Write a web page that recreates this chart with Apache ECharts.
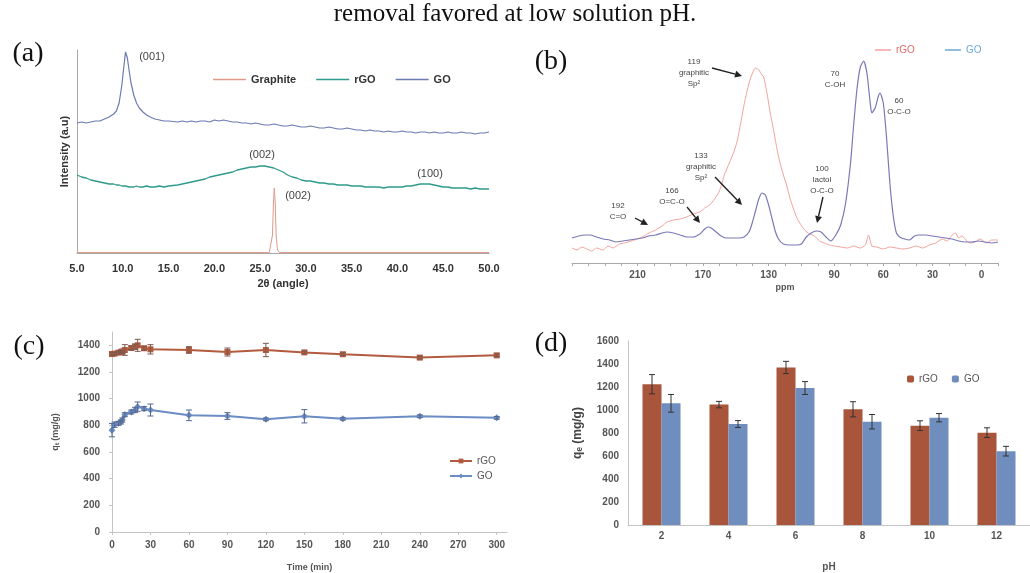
<!DOCTYPE html>
<html>
<head>
<meta charset="utf-8">
<title>GO / rGO characterisation and adsorption</title>
<script src="https://cdn.jsdelivr.net/npm/echarts@6/dist/echarts.min.js"></script>
<style>
  html, body { margin: 0; padding: 0; background: #fff; }
  #main { width: 1030px; height: 573px; }
</style>
</head>
<body>
<div id="main"></div>
<script>
// ---- (a) XRD, intensity in arbitrary units (offset traces) ----
var xrdAngle = [5,5.5,6,6.5,7,7.5,8,8.5,9,
  9.3,9.6,9.9,10.1,10.3,10.5,10.7,10.9,11.2,11.5,11.8,12.2,12.6,13,13.5,14,14.5,15,
  16,16.5,17,17.5,18,18.5,19,19.5,20,20.5,21,21.5,22,22.5,23,23.5,24,24.5,25,25.5,
  26,26.5,27,27.5,28,28.5,29,29.5,30,30.5,31,31.5,32,32.5,33,33.5,34,34.5,35,35.5,
  36,36.5,37,37.5,38,38.5,39,39.5,40,40.5,41,41.5,42,42.5,43,43.5,44,44.5,45,45.5,
  46,46.5,47,47.5,48,48.5,49,49.5,50];
var xrdGO = [130,131,130,131,132,132,134,136,139,
  142,150,168,185,201,195,182,170,158,150,145,141,138,136,134,133,132,132,
  131,132,131,132,131,132,132,131,133,132,133,132,131,131,130,130,129,130,129,128,
  128,129,128,127,127,128,127,126,126,127,126,125,125,126,125,124,124,125,124,123,
  123,122,123,122,122,121,122,121,121,122,121,121,120,121,121,120,121,120,120,121,
  120,120,121,120,120,119,120,120,121];
var xrdRGO = [78,76,75,73,72,71,70,69,69,
  68,68,67,68,67,67,66,67,66,67,66,66,67,66,66,67,66,67,
  68,69,70,71,72,73,74,76,77,78,79,80,81,83,84,85,86,86,87,87,
  86,85,83,81,78,76,75,73,72,72,71,70,70,69,69,68,68,68,67,67,
  67,66,66,66,66,65,66,66,66,66,67,67,68,69,69,69,68,67,66,66,
  65,65,65,65,64,65,64,64,64];
var graphiteAngle = [5,26.0,26.2,26.35,26.45,26.55,26.65,26.75,26.9,27.1,50];
var xrdGraphite = [0.5,0.5,2,18,48,65,50,18,3,0.5,0.5];

// ---- (b) 13C NMR, chemical shift (ppm) ----
var goPpm = [250,246,242,239,235,231,227,223,219,215,211,207,203,199,195,192,188,184,180,176,
  172,169,167,165,162,159,156,152,148,145,142,140,138,136,134,132,130,128,126,124,
  121,117,113,110,107,104,101,98,95,92,89,86,83,80,78,76,74,72,70,68,
  67,65,63,62,60,58,56,54,52,50,47,44,41,38,34,30,26,22,18,14,10,6,2,-2,-6,-10];
var goNmr = [25,27,28,28,26,24,23,21,22,23,24,25,27,28,30,31,30,28,26,26,
  29,34,36,35,31,27,25,25,25,26,31,40,52,64,70,68,58,45,32,24,
  19,18,18,19,26,30,32,31,26,22,28,38,60,100,140,175,196,202,190,160,
  150,155,167,170,160,125,80,48,30,26,24,23,27,28,28,27,26,25,24,22,21,21,22,21,20,21];
var rgoPpm = [250,247,244,241,238,235,231,228,225,221,218,214,210,206,203,199,195,192,188,184,
  180,176,172,169,166,163,160,157,154,151,149,147,145,143,141,139,138,136,134,133,
  131,129,127,125,123,121,119,117,115,113,111,108,105,102,99,96,93,90,86,82,
  78,74,71,69,67,64,60,56,52,48,44,40,36,32,28,24,21,18,16,14,12,9,7,4,1,-3,-6,-10];
var rgoNmr = [15,13,16,14,12,15,13,17,15,19,20,22,24,27,30,33,37,41,43,44,
  46,49,51,55,58,64,72,88,100,112,123,140,158,173,185,193,195,193,188,186,
  170,150,133,115,100,88,78,65,55,46,40,33,29,27,22,20,18,17,16,15,
  17,15,18,28,17,16,14,16,15,14,15,17,15,18,20,24,22,28,30,25,27,22,20,21,24,20,23,23];
var ppmTicks = [210,170,130,90,60,30,0];

// ---- (c) adsorption vs contact time ----
var timeMin = [0,2,5,7,8,10,15,18,20,25,30,60,90,120,150,180,240,300];
var qtRGO = [1335,1338,1345,1350,1355,1365,1380,1390,1400,1378,1370,1365,1350,1365,1347,1333,1308,1325];
var qtRGOErr = [10,10,10,10,10,40,15,20,45,15,35,25,30,50,10,10,10,10];
var qtGO = [764,805,815,825,840,880,900,915,940,925,915,875,870,845,868,849,868,856];
var qtGOErr = [50,20,15,15,15,15,15,20,35,15,45,40,25,10,50,10,10,10];
var timeTicks = [0,30,60,90,120,150,180,210,240,270,300];
var qtTicks = [0,200,400,600,800,1000,1200,1400];

// ---- (d) adsorption vs pH ----
var phLabels = ['2','4','6','8','10','12'];
var qeRGO = [1224,1047,1370,1006,864,803];
var qeRGOErr = [84,28,53,66,42,42];
var qeGO = [1058,878,1191,898,933,642];
var qeGOErr = [77,30,56,63,36,42];

function pairs(xs, ys) { return xs.map(function (x, i) { return [x, ys[i]]; }); }
function triples(xs, ys, es) { return xs.map(function (x, i) { return [x, ys[i], es[i]]; }); }
function idxTriples(ys, es) { return ys.map(function (y, i) { return [i, y, es[i]]; }); }
function stripTag(n) { return n.split(':')[1]; }
function plain(v) { return String(v); }

function errorBars(offset, color) {
  return function (params, api) {
    var x = api.value(0), y = api.value(1), e = api.value(2);
    var hi = api.coord([x, y + e]), lo = api.coord([x, y - e]);
    var cx = hi[0] + offset, w = 3;
    var st = { stroke: color, lineWidth: 1 };
    return { type: 'group', children: [
      { type: 'line', shape: { x1: cx, y1: hi[1], x2: cx, y2: lo[1] }, style: st },
      { type: 'line', shape: { x1: cx - w, y1: hi[1], x2: cx + w, y2: hi[1] }, style: st },
      { type: 'line', shape: { x1: cx - w, y1: lo[1], x2: cx + w, y2: lo[1] }, style: st }
    ] };
  };
}

function txt(s, x, y, font, color, align) {
  return { type: 'text', x: x, y: y, z: 100,
    style: { text: s, font: font, fill: color || '#444', align: align || 'center',
             verticalAlign: 'middle', lineHeight: 11 } };
}
function arrow(x1, y1, x2, y2) {
  var a = Math.atan2(y2 - y1, x2 - x1), L = 7, W = 3.5;
  var bx = x2 - L * Math.cos(a), by = y2 - L * Math.sin(a);
  return [
    { type: 'line', z: 100, shape: { x1: x1, y1: y1, x2: bx, y2: by }, style: { stroke: '#222', lineWidth: 1.4 } },
    { type: 'polygon', z: 100, shape: { points: [[x2, y2],
        [bx - W * Math.sin(a), by + W * Math.cos(a)], [bx + W * Math.sin(a), by - W * Math.cos(a)]] },
      style: { fill: '#222' } }
  ];
}

var SERIF = '"Liberation Serif", "DejaVu Serif", serif';
var SANS = '"Liberation Sans", Arial, sans-serif';
var annFont = '8px ' + SANS;
var axisGrey = '#a8a8a8';

var graphics = [
  txt('(a)', 28, 54, '28px ' + SERIF, '#111'),
  txt('(b)', 551, 62, '28px ' + SERIF, '#111'),
  txt('(c)', 29, 347, '28px ' + SERIF, '#111'),
  txt('(d)', 551, 344, '28px ' + SERIF, '#111'),
  txt('(001)', 152, 57, '11px ' + SANS, '#444'),
  txt('(002)', 262, 155, '11px ' + SANS, '#444'),
  txt('(100)', 430, 174, '11px ' + SANS, '#444'),
  txt('(002)', 298, 196, '11px ' + SANS, '#444'),
  txt('119\ngraphitic\nSp\u00b2', 694, 73, annFont, '#444'),
  txt('133\ngraphitic\nSp\u00b2', 701, 167, annFont, '#444'),
  txt('166\nO=C-O', 672, 196, annFont, '#444'),
  txt('192\nC=O', 618, 211, annFont, '#444'),
  txt('70\nC-OH', 835, 79, annFont, '#444'),
  txt('60\nO-C-O', 899, 106, annFont, '#444'),
  txt('100\nlactol\nO-C-O', 822, 180, annFont, '#444')
].concat(arrow(712, 68, 742, 76))
 .concat(arrow(715, 177, 742, 205))
 .concat(arrow(687, 207, 700, 223))
 .concat(arrow(635, 218, 648, 225))
 .concat(arrow(823, 197, 817, 223));

var tickFont = { fontFamily: SANS, fontWeight: 'bold', color: '#555', fontSize: 10 };

var option = {
  animation: false,
  backgroundColor: '#fff',
  title: {
    text: 'removal favored at low solution pH.', left: 'center', top: -3,
    textStyle: { fontFamily: SERIF, fontSize: 25, fontWeight: 'normal', color: '#111' }
  },
  legend: [
    { left: 208, top: 69, icon: 'rect', itemWidth: 33, itemHeight: 1.5, itemGap: 20, formatter: stripTag,
      data: ['a:Graphite', 'a:rGO', 'a:GO'],
      textStyle: { fontFamily: SANS, fontSize: 11, fontWeight: 'bold', color: '#333' } },
    { left: 870, top: 40, icon: 'rect', itemWidth: 16, itemHeight: 1.5, itemGap: 30, formatter: stripTag,
      data: [{ name: 'b:rGO', textStyle: { color: '#e26a6a' } },
             { name: 'b:GO', textStyle: { color: '#6aa8d4' }, itemStyle: { color: '#6aa8d4' } }],
      textStyle: { fontFamily: SANS, fontSize: 10 } },
    { left: 444, top: 451, orient: 'vertical', itemWidth: 22, itemHeight: 6, itemGap: 5, formatter: stripTag,
      data: ['c:rGO', 'c:GO'],
      textStyle: { fontFamily: SANS, fontSize: 10, color: '#555' } },
    { left: 902, top: 369, itemWidth: 7, itemHeight: 7, itemGap: 14, formatter: stripTag,
      data: ['d:rGO', 'd:GO'],
      textStyle: { fontFamily: SANS, fontSize: 10, color: '#555' } }
  ],
  grid: [
    { left: 77, top: 50, width: 412, height: 203 },
    { left: 572, top: 50, width: 426, height: 213 },
    { left: 112, top: 332, width: 395, height: 206 },
    { left: 628, top: 341, width: 405, height: 192 }
  ],
  xAxis: [
    { gridIndex: 0, type: 'value', min: 5, max: 50, interval: 5,
      axisLine: { lineStyle: { color: axisGrey } }, axisTick: { show: false }, splitLine: { show: false },
      axisLabel: { formatter: function (v) { return v.toFixed(1); }, fontFamily: SANS, fontWeight: 'bold',
                   color: '#333', fontSize: 11, margin: 10 },
      name: '2\u03b8 (angle)', nameLocation: 'middle', nameGap: 25,
      nameTextStyle: { fontFamily: SANS, fontWeight: 'bold', color: '#333', fontSize: 11 } },
    { gridIndex: 1, type: 'value', inverse: true, min: -10, max: 250, interval: 10,
      axisLine: { lineStyle: { color: axisGrey } },
      axisTick: { length: 3, lineStyle: { color: axisGrey } }, splitLine: { show: false },
      axisLabel: { customValues: ppmTicks, fontFamily: SANS, fontWeight: 'bold', color: '#555', fontSize: 10, margin: 7 },
      name: 'ppm', nameLocation: 'middle', nameGap: 20,
      nameTextStyle: { fontFamily: SANS, fontWeight: 'bold', color: '#555', fontSize: 9 } },
    { gridIndex: 2, type: 'value', min: 0, max: 308,
      axisLine: { lineStyle: { color: '#c4c4c4' } },
      axisTick: { customValues: timeTicks, length: 3, lineStyle: { color: '#c4c4c4' } }, splitLine: { show: false },
      axisLabel: Object.assign({ customValues: timeTicks, margin: 8, formatter: plain }, tickFont),
      name: 'Time (min)', nameLocation: 'middle', nameGap: 31,
      nameTextStyle: { fontFamily: SANS, fontWeight: 'bold', color: '#555', fontSize: 9 } },
    { gridIndex: 3, type: 'category', data: phLabels,
      axisLine: { lineStyle: { color: '#c4c4c4' } }, axisTick: { show: false },
      axisLabel: Object.assign({ margin: 6 }, tickFont),
      name: 'pH', nameLocation: 'middle', nameGap: 37,
      nameTextStyle: { fontFamily: SANS, fontWeight: 'bold', color: '#555', fontSize: 10 } }
  ],
  yAxis: [
    { gridIndex: 0, type: 'value', min: 0, max: 203,
      axisLine: { show: true, lineStyle: { color: axisGrey } }, axisTick: { show: false },
      axisLabel: { show: false }, splitLine: { show: false },
      name: 'Intensity (a.u)', nameLocation: 'middle', nameGap: 7,
      nameTextStyle: { fontFamily: SANS, fontWeight: 'bold', color: '#333', fontSize: 11 } },
    { gridIndex: 1, type: 'value', min: 0, max: 213, show: false },
    { gridIndex: 2, type: 'value', min: 0, max: 1500,
      axisLine: { show: true, lineStyle: { color: '#c4c4c4' } },
      axisTick: { show: true, customValues: qtTicks, length: 3, lineStyle: { color: '#c4c4c4' } },
      splitLine: { show: false },
      axisLabel: Object.assign({ customValues: qtTicks, margin: 12, formatter: plain }, tickFont),
      name: 'q\u209c (mg/g)', nameLocation: 'middle', nameGap: 52,
      nameTextStyle: { fontFamily: SANS, fontWeight: 'bold', color: '#555', fontSize: 9 } },
    { gridIndex: 3, type: 'value', min: 0, max: 1600, interval: 200,
      axisLine: { show: true, lineStyle: { color: '#c4c4c4' } },
      axisTick: { show: false }, splitLine: { show: false },
      axisLabel: Object.assign({ margin: 9, formatter: plain }, tickFont),
      name: 'q\u2091 (mg/g)', nameLocation: 'middle', nameGap: 44,
      nameTextStyle: { fontFamily: SANS, fontWeight: 'bold', color: '#444', fontSize: 12 } }
  ],
  series: [
    // (a)
    { name: 'a:Graphite', type: 'line', xAxisIndex: 0, yAxisIndex: 0, symbol: 'none',
      data: pairs(graphiteAngle, xrdGraphite), lineStyle: { width: 1, color: '#df9a8a' }, itemStyle: { color: '#df9a8a' } },
    { name: 'a:rGO', type: 'line', xAxisIndex: 0, yAxisIndex: 0, symbol: 'none',
      data: pairs(xrdAngle, xrdRGO), lineStyle: { width: 1.3, color: '#2f9a8c' }, itemStyle: { color: '#2f9a8c' } },
    { name: 'a:GO', type: 'line', xAxisIndex: 0, yAxisIndex: 0, symbol: 'none',
      data: pairs(xrdAngle, xrdGO), lineStyle: { width: 1.2, color: '#6c7bb3' }, itemStyle: { color: '#6c7bb3' } },
    // (b)
    { name: 'b:rGO', type: 'line', xAxisIndex: 1, yAxisIndex: 1, symbol: 'none', smooth: 0.2,
      data: pairs(rgoPpm, rgoNmr), lineStyle: { width: 1, color: '#f2a39c' }, itemStyle: { color: '#f2a39c' } },
    { name: 'b:GO', type: 'line', xAxisIndex: 1, yAxisIndex: 1, symbol: 'none', smooth: 0.2,
      data: pairs(goPpm, goNmr), lineStyle: { width: 1.2, color: '#7a78b6' }, itemStyle: { color: '#7a78b6' } },
    // (c)
    { name: 'c:rGO', type: 'line', xAxisIndex: 2, yAxisIndex: 2, symbol: 'rect', symbolSize: 6,
      data: pairs(timeMin, qtRGO), lineStyle: { width: 2, color: '#b35b3e' }, itemStyle: { color: '#b35b3e' } },
    { name: 'c:GO', type: 'line', xAxisIndex: 2, yAxisIndex: 2, symbol: 'diamond', symbolSize: 7,
      data: pairs(timeMin, qtGO), lineStyle: { width: 2, color: '#6b8cc4' }, itemStyle: { color: '#6b8cc4' } },
    { type: 'custom', xAxisIndex: 2, yAxisIndex: 2, z: 5, renderItem: errorBars(0, '#7a5a50'),
      data: triples(timeMin, qtRGO, qtRGOErr), encode: { x: 0, y: 1 } },
    { type: 'custom', xAxisIndex: 2, yAxisIndex: 2, z: 5, renderItem: errorBars(0, '#55698f'),
      data: triples(timeMin, qtGO, qtGOErr), encode: { x: 0, y: 1 } },
    // (d)
    { name: 'd:rGO', type: 'bar', xAxisIndex: 3, yAxisIndex: 3, barWidth: 19, barGap: '0%',
      data: qeRGO, itemStyle: { color: '#a9553c' } },
    { name: 'd:GO', type: 'bar', xAxisIndex: 3, yAxisIndex: 3, barWidth: 19, barGap: '0%',
      data: qeGO, itemStyle: { color: '#6f8dbd' } },
    { type: 'custom', xAxisIndex: 3, yAxisIndex: 3, z: 5, renderItem: errorBars(-9.5, '#333'),
      data: idxTriples(qeRGO, qeRGOErr), encode: { x: 0, y: 1 } },
    { type: 'custom', xAxisIndex: 3, yAxisIndex: 3, z: 5, renderItem: errorBars(9.5, '#333'),
      data: idxTriples(qeGO, qeGOErr), encode: { x: 0, y: 1 } }
  ],
  graphic: graphics
};

var chart = echarts.init(document.getElementById('main'));
chart.setOption(option);
</script>
</body>
</html>
